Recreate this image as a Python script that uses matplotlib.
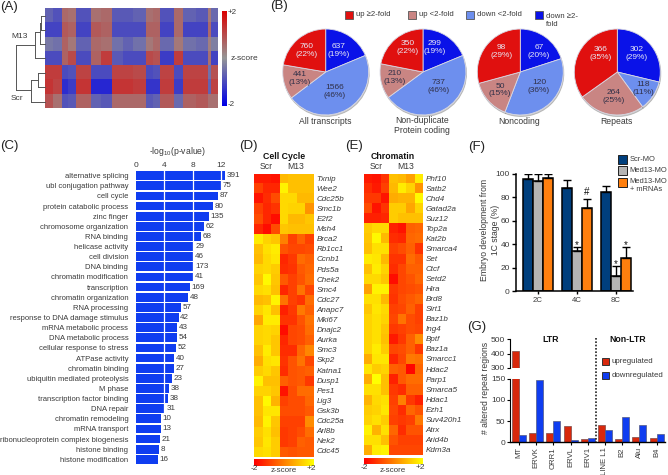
import matplotlib

matplotlib.use("Agg")
import matplotlib.pyplot as plt
import numpy as np
from matplotlib.colors import LinearSegmentedColormap
from matplotlib.patches import Rectangle

W, H = 668, 475
TXT = "#3a3a3a"
plt.rcParams["font.family"] = ["Liberation Sans", "DejaVu Sans"]
plt.rcParams["text.color"] = TXT
plt.rcParams["axes.labelcolor"] = TXT
plt.rcParams["xtick.labelcolor"] = TXT
plt.rcParams["ytick.labelcolor"] = TXT
plt.rcParams["mathtext.default"] = "regular"

# (A) clustered heatmap: 7 samples by blocks of probes
a_widths = [8, 9, 6, 8, 16, 10, 11, 11, 10, 13, 7, 7, 14, 10, 13, 12, 3, 7]
a_rows = [
    [-0.7, -0.9, 0.6, 0.5, -0.9, 0.5, 0.6, -0.8, -0.8, -0.7, 0.5, 0.6, -0.9, 0.6, -0.7, -0.8, 0.4, -0.6],
    [-1.1, -1.1, 0.8, 0.7, -1.1, 0.8, 0.7, -1.0, -1.0, -1.0, 0.7, 0.7, -1.1, 0.6, -1.1, -1.1, 0.6, -1.0],
    [-0.4, -0.5, 0.7, 0.4, -0.7, 0.6, 0.5, -0.5, -0.7, -0.5, 0.4, 0.6, -0.6, 0.4, -0.5, -0.6, 0.3, -0.3],
    [-1.0, -1.0, 0.7, 1.0, -1.0, 0.7, 1.2, -0.8, -1.0, -1.0, 1.0, 0.9, -1.2, 1.2, -1.0, -1.0, 0.5, -1.1],
    [1.2, 1.2, -1.0, -0.9, 1.1, -1.0, -1.0, 1.1, 1.1, 1.0, -1.0, -0.9, 1.1, -1.0, 1.1, 1.1, -0.5, 0.9],
    [1.3, 1.1, -1.4, -1.2, 1.3, -1.5, -1.5, 1.3, 1.3, 1.2, -1.3, -1.3, 1.2, -1.2, 1.2, 1.2, -0.7, 1.1],
    [0.9, 0.5, -0.9, -0.8, 0.7, -0.7, -0.8, 0.6, 0.6, 0.6, -0.8, -0.7, 0.8, -0.6, 0.7, 0.8, 0.5, 0.5],
]
# dendrogram in pixels: vertical joins (top, bottom, x) and horizontal arms (y, x0, x1)
tree_v = [(15.7, 29.7, 40.7), (22.7, 44, 40), (32, 58.3, 35.3),
          (72.7, 87.3, 38.3), (80, 101.7, 30.7), (45, 90, 15.7)]
tree_h = [(15.7, 40.7, 45), (29.7, 40.7, 45), (22.7, 40, 40.7), (44, 40, 45), (32, 35.3, 40),
          (58.3, 35.3, 45), (72.7, 38.3, 45), (87.3, 38.3, 45), (80, 30.7, 38.3), (101.7, 30.7, 45),
          (45, 15.7, 35.3), (90, 15.7, 30.7)]

# (B) pies, clockwise from 12 o'clock
pie_names = ["All transcripts", "Non-duplicate\nProtein coding", "Noncoding", "Repeats"]
pie_blue = [637, 299, 67, 302]
pie_lblue = [1566, 737, 120, 118]
pie_rose = [441, 210, 50, 264]
pie_red = [760, 350, 98, 366]
pie_colors = ["#0a12e8", "#6d8fee", "#c98583", "#e0100f"]
pie_pct = [[19, 46, 13, 22], [19, 46, 13, 22], [20, 36, 15, 29], [29, 11, 25, 35]]
pie_centers = [325.7, 423, 520.3, 617.3]
pie_label_xy = [
    [(338.3, 50.7), (335, 91.7), (300, 78.7), (306.7, 50.7)],
    [(435, 47.7), (439, 86.7), (395, 77.7), (407.7, 47.7)],
    [(539, 51.7), (539, 86.7), (500, 90), (501.7, 51.7)],
    [(636.7, 53.3), (643.3, 88.3), (614, 96.7), (601, 53.3)],
]

# (C) enrichment bars
go_terms = [
    "alternative splicing", "ubl conjugation pathway", "cell cycle", "protein catabolic process",
    "zinc finger", "chromosome organization", "RNA binding", "helicase activity", "cell division",
    "DNA binding", "chromatin modification", "transcription", "chromatin organization",
    "RNA processing", "response to DNA damage stimulus", "mRNA metabolic process",
    "DNA metabolic process", "cellular response to stress", "ATPase activity", "chromatin binding",
    "ubiquitin mediated proteolysis", "M phase", "transcription factor binding", "DNA repair",
    "chromatin remodeling", "mRNA transport", "ribonucleoprotein complex biogenesis",
    "histone binding", "histone modification",
]
go_logp = [12.5, 12.0, 11.5, 10.85, 10.25, 9.55, 9.1, 8.15, 8.1, 8.1, 8.0, 7.6, 7.3, 6.3, 6.0,
           5.8, 5.75, 5.6, 5.4, 5.3, 5.05, 4.6, 4.5, 4.1, 3.55, 3.55, 3.4, 3.2, 3.1]
go_counts = [391, 75, 87, 80, 135, 62, 68, 29, 46, 173, 41, 169, 48, 57, 42, 43, 54, 52, 40, 27,
             23, 38, 38, 31, 10, 13, 21, 8, 16]

# (D) cell cycle genes, 3 Scr + 4 M13
cycle_genes = [
    "Txnip", "Wee2", "Cdc25b", "Smc1b", "E2f2", "Msh4", "Brca2", "Rb1cc1", "Ccnb1", "Pds5a",
    "Chek2", "Smc4", "Cdc27", "Anapc7", "Mki67", "Dnajc2", "Aurka", "Smc3", "Skp2", "Katna1",
    "Dusp1", "Pes1", "Lig3", "Gsk3b", "Cdc25a", "Arl8b", "Nek2", "Cdc45",
]
cycle_z = [
    [-1.6, -1.6, -1.7, 0.9, 1.0, 1.0, 1.0], [-1.0, -1.4, -1.4, 1.8, 1.0, 1.0, 1.0],
    [-1.7, -1.3, -0.8, 1.4, 1.4, 0.9, 0.9], [-1.0, -1.4, -1.2, 1.4, 1.3, 1.3, 0.3],
    [-0.8, -1.4, -1.8, 1.4, 0.9, 0.9, 1.1], [-1.4, -1.8, -0.8, 1.1, 1.0, 1.0, 1.0],
    [1.7, 1.3, 1.1, 0.0, -1.0, -0.5, -1.0], [1.0, 1.5, 1.7, -0.7, -0.9, -0.9, -0.8],
    [0.9, 1.4, 1.6, -1.4, -1.1, -0.3, -0.5], [1.3, 1.4, 1.2, -1.3, -1.2, -0.6, -0.4],
    [1.1, 1.9, 1.1, -0.6, -1.0, -0.7, -0.3], [1.4, 1.5, 1.0, -1.4, -1.0, -0.2, -0.9],
    [0.9, 1.0, 1.8, -0.2, -1.0, -1.2, -0.3], [1.3, 1.6, 1.0, -1.5, -1.1, -0.1, -0.5],
    [0.6, 1.7, 1.7, -1.2, -1.2, -0.7, -0.2], [1.3, 1.4, 1.3, -1.8, -0.9, -0.8, -0.3],
    [1.3, 1.4, 1.1, -1.4, -0.9, -0.8, -0.5], [1.0, 1.7, 1.1, -1.3, -1.3, -0.4, 0.1],
    [0.7, 1.5, 1.6, -1.2, -0.7, -0.2, -0.9], [1.2, 1.4, 1.1, -1.3, -0.7, -0.6, -0.5],
    [1.8, 1.0, 1.0, -0.5, -0.7, -0.6, -1.1], [1.3, 1.3, 1.1, -1.7, -0.8, -0.3, -0.3],
    [1.0, 1.9, 0.8, -1.0, -0.8, -0.8, -0.4], [1.0, 1.6, 1.6, -0.8, -0.8, -0.8, -0.6],
    [0.9, 1.8, 1.1, -1.0, -1.0, -1.0, 0.2], [1.2, 1.5, 1.0, -1.1, -1.0, -0.8, -0.3],
    [1.1, 1.6, 1.2, -1.1, -1.0, -0.5, -0.6], [1.4, 1.5, 1.2, -0.6, -0.7, -0.6, -0.6],
]

# (E) chromatin genes
chrom_genes = [
    "Phf10", "Satb2", "Chd4", "Gatad2a", "Suz12", "Top2a", "Kat2b", "Smarca4", "Set", "Ctcf",
    "Setd2", "Hira", "Brd8", "Sirt1", "Baz1b", "Ing4", "Bptf", "Baz1a", "Smarcc1", "Hdac2",
    "Parp1", "Smarca5", "Hdac1", "Ezh1", "Suv420h1", "Atrx", "Arid4b", "Kdm3a",
]
chrom_z = [
    [-1.6, -1.7, -1.2, 1.0, 0.9, 0.5, 1.7], [-1.3, -1.6, -1.0, 0.9, 1.7, 1.3, 0.3],
    [-1.1, -1.1, -1.7, 0.7, 0.8, 0.8, 1.9], [-0.8, -1.7, -1.2, 1.2, 1.2, 0.6, 1.3],
    [-1.5, -1.5, -1.4, 1.2, 1.0, 1.0, 1.0], [1.2, 1.4, 1.4, -1.5, -1.7, -0.5, -0.4],
    [1.1, 1.9, 0.9, -1.3, -1.4, -0.4, -0.3], [1.0, 1.5, 1.5, -1.0, -0.8, -0.5, -1.2],
    [1.7, 1.6, 0.9, -1.2, -1.2, -0.3, -0.6], [1.0, 1.7, 1.3, -1.3, -0.9, -0.5, -0.5],
    [1.4, 1.4, 1.1, -1.8, -0.9, -0.7, -0.4], [0.5, 1.8, 1.8, -1.1, -0.9, -0.8, -0.7],
    [1.5, 1.5, 0.9, -1.2, -0.8, -0.6, -0.4], [1.1, 1.6, 1.4, -1.0, -0.9, -0.5, -1.0],
    [1.3, 1.5, 1.3, -0.9, -0.2, -0.8, -1.0], [1.3, 1.5, 1.1, -1.1, -1.0, -0.8, -0.9],
    [1.3, 1.5, 1.0, -1.6, -1.1, -0.5, 0.2], [1.3, 1.7, 1.2, -0.9, -0.8, -0.5, -1.1],
    [0.7, 1.6, 1.6, -1.4, -0.9, -0.1, -0.2], [1.6, 1.2, 1.3, -0.5, -0.6, -1.9, -0.4],
    [0.7, 2.0, 1.0, -1.5, -0.6, -0.3, -0.3], [1.5, 1.5, 1.0, -1.1, -1.3, -0.5, -0.5],
    [0.8, 1.4, 1.5, -1.0, 0.0, -1.1, -1.5], [1.2, 1.3, 1.6, -0.9, -1.3, -0.4, -0.7],
    [1.3, 1.5, 1.2, -1.0, -1.1, -1.0, -0.1], [1.8, 0.8, 1.5, -0.4, -1.3, -0.7, -0.7],
    [1.5, 1.5, 1.0, -0.7, -1.0, -1.0, -1.0], [0.7, 1.7, 1.8, -0.9, -0.9, -0.9, -0.9],
]

# (F) embryo development
stages = ["2C", "4C", "8C"]
dev_scr = [96, 88, 85]
dev_med = [94, 34, 13]
dev_rescue = [97, 71, 28]
err_scr = [4, 7, 5]
err_med = [6, 4, 8]
err_rescue = [3, 8, 10]
dev_colors = ["#003f7d", "#b4b4b4", "#ff7f0e"]

# (G) altered repeats
repeat_names = ["MT", "ERVK", "ORR1", "ERVL", "ERV1", "LINE L1", "B2", "Alu", "B4"]
repeat_up = [415, 22, 22, 38, 7, 41, 8, 13, 9]
repeat_down = [18, 147, 50, 5, 9, 29, 60, 41, 19]

RED = "#d8280c"
BLUE = "#0f3df0"

fig = plt.figure(figsize=(W / 100, H / 100), dpi=100)


def px_axes(x0, y0, x1, y1, **kw):
    return fig.add_axes([x0 / W, 1 - y1 / H, (x1 - x0) / W, (y1 - y0) / H], **kw)


canvas = px_axes(0, 0, W, H, zorder=5)
canvas.set_xlim(0, W)
canvas.set_ylim(H, 0)
canvas.axis("off")


def label(x, y, s, size=5.8, ha="center", va="center", **kw):
    canvas.text(x, y, s, fontsize=size, ha=ha, va=va, **kw)


for x, y, s in [(0, 7, "(A)"), (270, 6, "(B)"), (0, 146, "(C)"), (239, 146, "(D)"),
                (345, 146, "(E)"), (468, 147, "(F)"), (467, 327, "(G)")]:
    label(x, y, s, size=9.5, ha="left", color="#222222")

# (A)
bwr = LinearSegmentedColormap.from_list("bgr", ["#0000e6", "#969696", "#dc0000"])
ax = px_axes(45, 8, 218, 108)
ax.pcolormesh(np.r_[0, np.cumsum(a_widths)], np.arange(8), np.array(a_rows), cmap=bwr, vmin=-2, vmax=2)
ax.invert_yaxis()
ax.axis("off")
for top, bottom, xj in tree_v:
    canvas.plot([xj, xj], [top, bottom], color="#555555", lw=0.7)
for y, x0, x1 in tree_h:
    canvas.plot([x0, x1], [y, y], color="#555555", lw=0.7)
label(20, 37, "M13", size=6)
label(17, 98, "Scr", size=6)
cb = px_axes(222, 11, 227, 106)
cb.imshow(np.linspace(2, -2, 100)[:, None], aspect="auto", cmap=bwr, vmin=-2, vmax=2)
cb.axis("off")
label(228, 12, "+2", size=5.8, ha="left")
label(231, 59, "z-score", size=6, ha="left")
label(228, 105, "-2", size=5.8, ha="left")

# (B)
for x0, y0, c, s in [(345, 11, pie_colors[3], "up ≥2-fold"), (408, 11, pie_colors[2], "up <2-fold"),
                     (466, 11, pie_colors[1], "down <2-fold"), (535, 11, pie_colors[0], "down ≥2-\nfold")]:
    canvas.add_patch(Rectangle((x0, y0), 8, 8, fc=c, ec="#555555", lw=0.6))
    label(x0 + 11, y0 + 4 if "\n" not in s else y0 + 9, s, size=5.6, ha="left")

for i, (cx, name) in enumerate(zip(pie_centers, pie_names)):
    vals = [pie_blue[i], pie_lblue[i], pie_rose[i], pie_red[i]]
    ax = px_axes(cx - 45, 72 - 45, cx + 45, 72 + 45)
    ax.pie(vals, colors=pie_colors, startangle=90, counterclock=False, radius=0.955,
           wedgeprops={"edgecolor": "#d8d8e4", "linewidth": 0.6},
           shadow={"ox": 0.01, "oy": -0.025, "alpha": 0.2, "shade": 1.0})
    ax.set_xlim(-1, 1)
    ax.set_ylim(-1, 1)
    for j, (v, pct, xy) in enumerate(zip(vals, pie_pct[i], pie_label_xy[i])):
        col = "#e8e8f4" if j in (0, 3) else "#303048"
        label(xy[0], xy[1], f"{v}\n({pct}%)", size=6, color=col, linespacing=1.1)
    label(cx - (1 if i else 0), 121 if "\n" not in name else 125.5, name, size=6.2, linespacing=1.15)

# (C)
ax = px_axes(136, 170.6, 228.6, 464.4)
ypos = np.arange(len(go_terms))
ax.barh(ypos, go_logp, height=0.86, color=BLUE)
for v in (4, 8, 12):
    ax.axvline(v, color="white", lw=0.9)
for y, v, n in zip(ypos, go_logp, go_counts):
    ax.text(v + 0.2, y, str(n), fontsize=5.8, va="center", ha="left")
ax.set_xlim(0, 13)
ax.set_ylim(len(go_terms) - 0.5, -0.5)
ax.set_yticks(ypos, go_terms, fontsize=5.5)
ax.set_xticks([0, 4, 8, 12])
ax.xaxis.tick_top()
ax.tick_params(axis="both", length=0, pad=1.5)
ax.tick_params(axis="x", labelsize=6)
ax.tick_params(axis="y", pad=5.5)
for s in ax.spines.values():
    s.set_visible(False)
label(178, 152, "-log$_{10}$(p-value)", size=6.2)


# (D), (E)
def gene_heatmap(x0, x1, y0, y1, z, genes, title, cb_y):
    ax = px_axes(x0, y0, x1, y1)
    ax.imshow(np.array(z), aspect="auto", cmap="autumn", vmin=-2, vmax=2, interpolation="nearest")
    ax.axis("off")
    step = (y1 - y0) / len(genes)
    for i, g in enumerate(genes):
        label(x1 + 3.4, y0 + (i + 0.5) * step, g, size=5.8, ha="left", style="italic")
    mid = (x0 + x1) / 2
    label(mid, 156.7, title, size=6.3, fontweight="bold", color="#111111")
    label(x0 + 12.7, 166.7, "Scr", size=6.2)
    label(x0 + 41.7, 166.7, "M13", size=6.2)
    c = px_axes(x0, cb_y, x1, cb_y + 6.3)
    c.imshow(np.linspace(-2, 2, 100)[None, :], aspect="auto", cmap="autumn", vmin=-2, vmax=2)
    c.axis("off")
    label(x0, cb_y + 9.5, "-2", size=6)
    label(x1 - 2, cb_y + 9.5, "+2", size=6)
    label(mid, 470.8, "z-score", size=5.8)


gene_heatmap(254, 313.3, 174, 457, cycle_z, cycle_genes, "Cell Cycle", 459.3)
gene_heatmap(364, 422.3, 174, 455.5, chrom_z, chrom_genes, "Chromatin", 457.7)

# (F)
ax = px_axes(516, 174, 633, 291)
x = np.arange(3)
bw = 0.25
for off, vals, errs, col in zip((-0.26, 0, 0.26), (dev_scr, dev_med, dev_rescue),
                                (err_scr, err_med, err_rescue), dev_colors):
    ax.bar(x + off, vals, bw, color=col, edgecolor="black", lw=1.1,
           yerr=[np.zeros(3), errs], ecolor="black",
           error_kw={"elinewidth": 1.0, "capsize": 2.6, "capthick": 1.0})
ax.set_xlim(-0.564, 2.44)
ax.set_ylim(0, 100)
ax.set_yticks(range(0, 101, 20))
ax.set_xticks(x, stages)
ax.tick_params(axis="x", length=2.5, width=1, labelsize=5.6, pad=1.5, color="black")
ax.tick_params(axis="y", length=3, width=1, labelsize=6, pad=1.5)
ax.spines[["top", "right"]].set_visible(False)
ax.spines[["left", "bottom"]].set_linewidth(1.1)
for xp, yp, s in [(1, 39, "*"), (1.26, 80, "#"), (2, 23, "*"), (2.26, 39, "*")]:
    ax.text(xp, yp, s, ha="center", va="bottom" if s == "#" else "center", fontsize=7, color="#111111",
            clip_on=False)
label(490, 230, "Embryo development from\n1C stage (%)", size=6.2, rotation=90, linespacing=1.2)
for y0, c, s in [(155, dev_colors[0], "Scr-MO"), (166, dev_colors[1], "Med13-MO"),
                 (178, dev_colors[2], "Med13-MO\n+ mRNAs")]:
    canvas.add_patch(Rectangle((618.3, y0), 8.5, 8.5, fc=c, ec="#222222", lw=0.7))
    label(629.5, y0 + 4.2 if "\n" not in s else y0 + 7.5, s, size=5.4, ha="left", linespacing=1.2)

# (G)
gx = np.arange(len(repeat_names))
gw = 0.41
lo = px_axes(510, 378.7, 665, 442.3)
hi = px_axes(510, 339.3, 665, 367.7)
for a in (lo, hi):
    a.bar(gx - gw / 2, repeat_up, gw, color=RED, edgecolor="#7a4a4a", lw=0.5)
    a.bar(gx + gw / 2, repeat_down, gw, color=BLUE, edgecolor="#555a80", lw=0.5)
    a.set_xlim(-0.523, 8.49)
    a.spines[["top", "right"]].set_visible(False)
    a.tick_params(axis="y", length=2.5, width=0.8, labelsize=6, pad=1)
lo.set_ylim(0, 150)
lo.set_yticks([0, 50, 100, 150])
hi.set_ylim(300, 500)
hi.set_yticks([300, 400, 500])
hi.spines["bottom"].set_visible(False)
hi.set_xticks([])
lo.set_xticks(gx, repeat_names, rotation=90, fontsize=5.6)
lo.tick_params(axis="x", length=2, width=0.8, pad=1.5)
lo.spines["bottom"].set_linewidth(1.0)
label(486, 388, "# altered repeat regions", size=6.2, rotation=90)
canvas.plot([596, 596], [338, 442], color="#222222", lw=1.2, ls=(0, (1, 1)))
label(550.7, 339, "LTR", size=6.3, fontweight="bold", color="#111111")
label(627.7, 339, "Non-LTR", size=6.3, fontweight="bold", color="#111111")
for y0, c, s in [(358, RED, "upregulated"), (372, BLUE, "downregulated")]:
    canvas.add_patch(Rectangle((602, y0), 7, 7, fc=c, ec="#333333", lw=0.7))
    label(612, y0 + 3.5, s, size=5.7, ha="left")

fig.savefig("out.png", dpi=100)
